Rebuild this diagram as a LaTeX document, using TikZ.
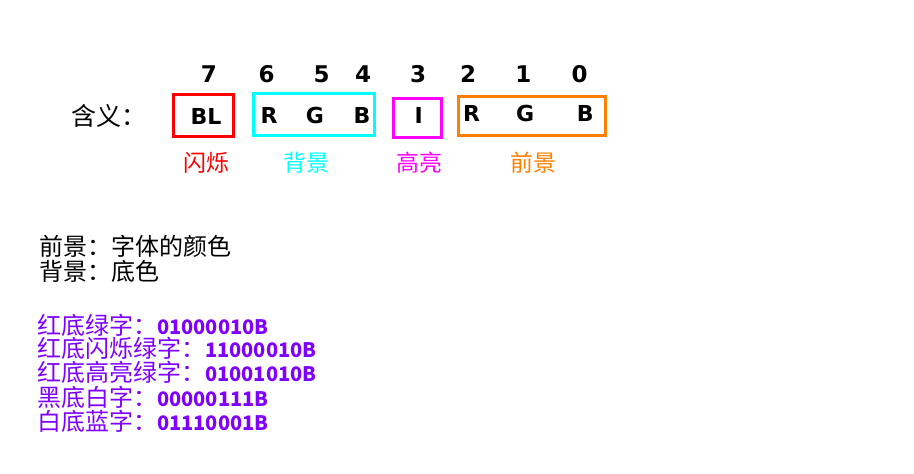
\documentclass[tikz,border=0pt]{standalone}
\usepackage{fontspec}
\setmainfont{DejaVu Sans}
\newfontfamily\cjk{Noto Sans CJK SC}
\definecolor{bgcyan}{RGB}{0,255,255}
\definecolor{fgorange}{RGB}{255,128,0}
\definecolor{hlmagenta}{RGB}{255,0,255}
\definecolor{expurple}{RGB}{128,0,255}
\newcommand{\bincode}[1]{{\fontsize{20}{22}\selectfont\bfseries #1}}

\begin{document}
\begin{tikzpicture}[x=1pt, y=-1pt,
    bitnum/.style={font=\fontsize{23}{26}\selectfont\bfseries, inner sep=0pt, anchor=base},
    bitletter/.style={font=\fontsize{22}{26}\selectfont\bfseries, inner sep=0pt, anchor=base},
    field/.style={rectangle, line width=3pt, inner sep=0pt},
    fieldname/.style={font=\cjk\fontsize{23}{26}\selectfont, inner sep=0pt, anchor=base},
    note/.style={font=\cjk\fontsize{24}{26}\selectfont, inner sep=0pt, anchor=base west},
    example/.style={note, text=expurple}
]
\useasboundingbox[fill=white] (0,0) rectangle (914,474);

% Bit numbers
\node[bitnum] (b7) at (209, 82) {7};
\node[bitnum] (b6) at (266.5, 82) {6};
\node[bitnum] (b5) at (321.7, 82) {5};
\node[bitnum] (b4) at (363, 82) {4};
\node[bitnum] (b3) at (418, 82) {3};
\node[bitnum] (b2) at (468, 82) {2};
\node[bitnum] (b1) at (523.3, 82) {1};
\node[bitnum] (b0) at (579.7, 82) {0};

% Meaning row
\node[note, font=\cjk\fontsize{25}{28}\selectfont] (meaning) at (71, 125) {含义：};

% Fields
\node[field, draw=red, minimum width=60, minimum height=42] (blinkbox) at (203.5, 115.5) {};
\node[field, draw=bgcyan, minimum width=121, minimum height=42] (bgbox) at (313.8, 114.2) {};
\node[field, draw=hlmagenta, minimum width=48, minimum height=39] (hlbox) at (417, 117.5) {};
\node[field, draw=fgorange, minimum width=146.4, minimum height=38.7] (fgbox) at (532, 115.8) {};

% Letters inside the fields
\node[bitletter] (blink) at (206, 124) {BL};
\node[bitletter] (bgR) at (269, 123) {R};
\node[bitletter] (bgG) at (315, 123) {G};
\node[bitletter] (bgB) at (362, 123) {B};
\node[bitletter] (hlI) at (418.7, 123) {I};
\node[bitletter] (fgR) at (471.7, 121.7) {R};
\node[bitletter] (fgG) at (525.2, 121.7) {G};
\node[bitletter] (fgB) at (585.3, 121.7) {B};

% Field names
\node[fieldname, text=red] (blinkname) at (206, 171) {闪烁};
\node[fieldname, text=bgcyan] (bgname) at (306, 171) {背景};
\node[fieldname, text=hlmagenta] (hlname) at (419.5, 171) {高亮};
\node[fieldname, text=fgorange] (fgname) at (533, 171) {前景};

% Notes
\node[note] (fgnote) at (39, 255) {前景：字体的颜色};
\node[note] (bgnote) at (39, 280) {背景：底色};

% Examples
\node[example] (ex1) at (37, 334) {红底绿字：\bincode{01000010B}};
\node[example] (ex2) at (37, 357.7) {红底闪烁绿字：\bincode{11000010B}};
\node[example] (ex3) at (37, 381.3) {红底高亮绿字：\bincode{01001010B}};
\node[example] (ex4) at (37, 406) {黑底白字：\bincode{00000111B}};
\node[example] (ex5) at (37, 430) {白底蓝字：\bincode{01110001B}};

\end{tikzpicture}
\end{document}
